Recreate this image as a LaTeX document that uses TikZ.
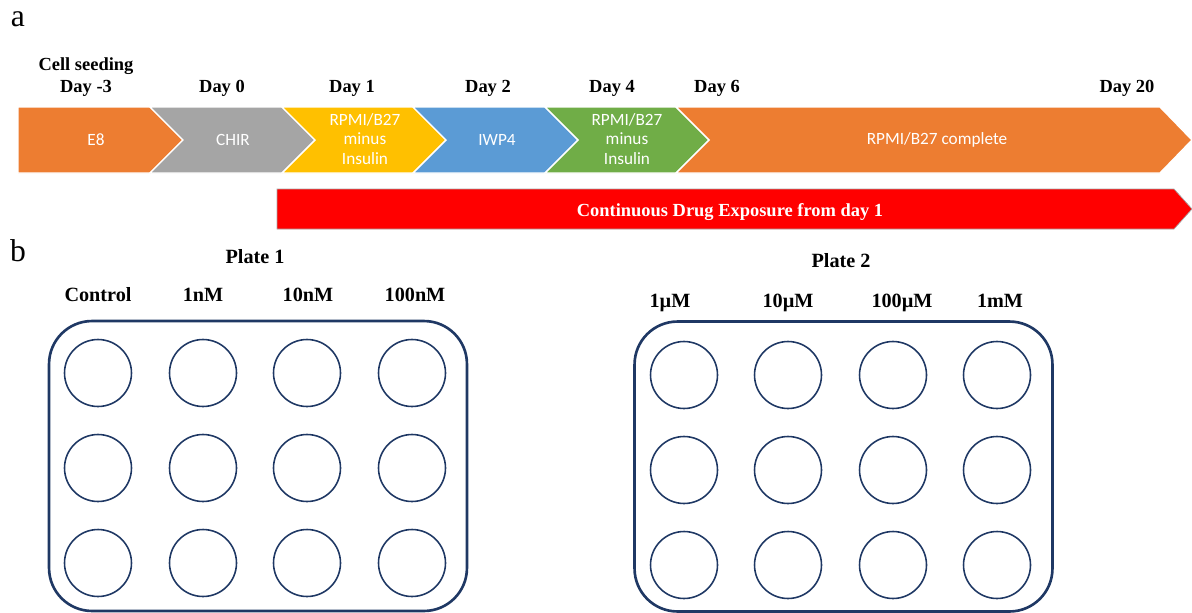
\documentclass[tikz,border=0pt]{standalone}
\usepackage{fontspec}
\setmainfont{Liberation Serif}
\newfontfamily\chevfont{Carlito}
\definecolor{chevorange}{HTML}{ED7D31}
\definecolor{chevgray}{HTML}{A5A5A5}
\definecolor{chevyellow}{HTML}{FFC000}
\definecolor{chevblue}{HTML}{5B9BD5}
\definecolor{chevgreen}{HTML}{70AD47}
\definecolor{navy}{HTML}{1F3864}
\begin{document}
\begin{tikzpicture}[x=0.02cm,y=-0.02cm,
		panel/.style={font=\fontsize{18}{20}\selectfont},
		day/.style={font=\fontsize{10.5}{12}\selectfont\bfseries, anchor=base},
		dose/.style={font=\fontsize{11.5}{13}\selectfont\bfseries, anchor=base},
		chev/.style={draw=white, line width=0.8pt},
		chevtext/.style={font=\chevfont\fontsize{9.8}{11}\selectfont, text=white, align=center},
		plate/.style={draw=navy, line width=1.5pt, rounded corners=0.86cm,
		minimum width=8.36cm, minimum height=5.8cm},
		well/.style={circle, draw=navy, line width=0.9pt, minimum size=1.34cm, inner sep=0pt}
		]
		\useasboundingbox (0,0) rectangle (1192,612);

		% panel a: timeline
		\node[panel](a) at (18,19){a};
		\fill[chev, fill=chevorange] (18,107) -- (150,107) -- (183,140) -- (150,173) -- (18,173) -- cycle;
		\fill[chev, fill=chevgray] (150,107) -- (282,107) -- (315,140) -- (282,173) -- (150,173) -- (183,140) -- cycle;
		\fill[chev, fill=chevyellow] (282,107) -- (413,107) -- (446,140) -- (413,173) -- (282,173) -- (315,140) -- cycle;
		\fill[chev, fill=chevblue] (413,107) -- (545,107) -- (578,140) -- (545,173) -- (413,173) -- (446,140) -- cycle;
		\fill[chev, fill=chevgreen] (545,107) -- (676,107) -- (709,140) -- (676,173) -- (545,173) -- (578,140) -- cycle;
		\fill[chev, fill=chevorange] (676,107) -- (1160,107) -- (1192,140) -- (1160,173) -- (676,173) -- (709,140) -- cycle;

		\node[chevtext](E8) at (96,140){E8};
		\node[chevtext](CHIR) at (233,140){CHIR};
		\node[chevtext](RB1) at (365,139){RPMI/B27\\minus\\Insulin};
		\node[chevtext](IWP) at (497,140){IWP4};
		\node[chevtext](RB2) at (627,139){RPMI/B27\\minus\\Insulin};
		\node[chevtext](RBC) at (937,140){RPMI/B27 complete};

		\node[day](Dm3) at (86,92){Day -3};
		\node[day, above of = Dm3, yshift = -0.56cm](seed){Cell seeding};
		\node[day](D0) at (222,92){Day 0};
		\node[day](D1) at (352,92){Day 1};
		\node[day](D2) at (488,92){Day 2};
		\node[day](D4) at (612,92){Day 4};
		\node[day](D6) at (717,92){Day 6};
		\node[day](D20) at (1127,92){Day 20};

		\fill[red, draw=black!35, line width=0.4pt] (277,189) -- (1174,189) -- (1192,209) -- (1174,229) -- (277,229) -- cycle;
		\node[font=\fontsize{10.5}{12}\selectfont\bfseries, text=white, anchor=base](drug) at (730,216){Continuous Drug Exposure from day 1};

		% panel b: plates
		\node[panel](b) at (18,251){b};

		\node[plate](P1) at (258,466){};
		\node[dose](P1t) at (255,263){Plate 1};
		\node[dose](P1c1) at (98,301){Control};
		\node[dose](P1c2) at (203,301){1nM};
		\node[dose](P1c3) at (308,301){10nM};
		\node[dose](P1c4) at (415,301){100nM};
		\foreach \c/\x in {1/98,2/203,3/307,4/412}
			\foreach \r/\y in {1/373,2/468,3/563}
				\node[well](A\c\r) at (\x,\y){};

		\node[plate](P2) at (843.5,466.5){};
		\node[dose](P2t) at (841,267){Plate 2};
		\node[dose](P2c1) at (670,307){1µM};
		\node[dose](P2c2) at (788,307){10µM};
		\node[dose](P2c3) at (902,307){100µM};
		\node[dose](P2c4) at (1000,307){1mM};
		\foreach \c/\x in {1/684,2/788,3/893,4/997}
			\foreach \r/\y in {1/375,2/470,3/565}
				\node[well](B\c\r) at (\x,\y){};
	\end{tikzpicture}
\end{document}
